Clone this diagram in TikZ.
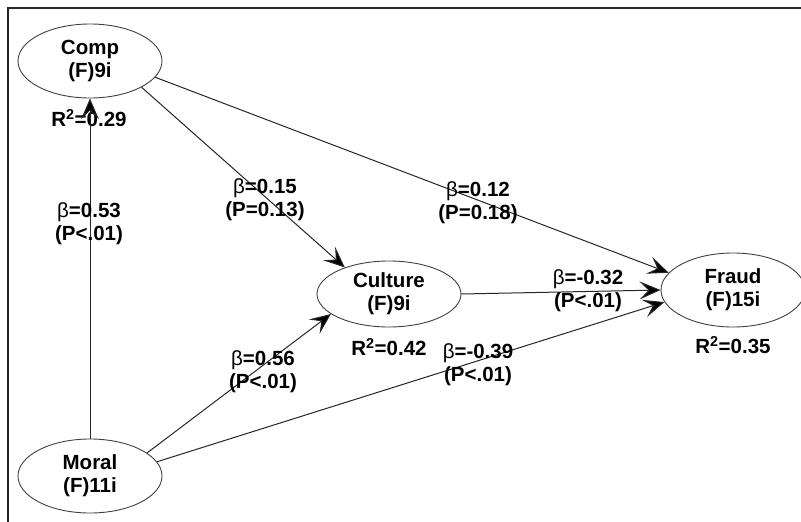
\documentclass[tikz,border=0pt]{standalone}
\usepackage{fontspec}
\setmainfont{Liberation Sans}
\usetikzlibrary{shapes.geometric,arrows.meta,positioning}
\tikzstyle{latent} = [ellipse, draw=black!75, line width=0.9pt, minimum width=144pt, minimum height=74pt, inner sep=0pt, align=center]
\tikzstyle{coef} = [align=center, inner sep=0pt]
\tikzstyle{arrow} = [draw=black!85, line width=1pt, -{Stealth[length=21pt,width=18pt,inset=9pt,fill=black]}]

\begin{document}
\begin{tikzpicture}[
    x=1pt,
    y=-1pt,
    every node/.style={font=\fontsize{20.5}{23}\selectfont\bfseries}
]
    \useasboundingbox (0,0) rectangle (801,522);
    \draw[black!85, line width=2pt] (8,522) -- (8,8) -- (801,8);

    \node[latent] (comp) at (90,61) {Comp\\(F)9i};
    \node[latent] (moral) at (90,476) {Moral\\(F)11i};
    \node[latent, minimum height=66pt] (culture) at (389,294) {Culture\\(F)9i};
    \node[latent] (fraud) at (733,290) {Fraud\\(F)15i};

    \node[coef] (r2comp) at (89,118) {R\textsuperscript{2}=0.29};
    \node[coef] (r2culture) at (389,347) {R\textsuperscript{2}=0.42};
    \node[coef] (r2fraud) at (733,345) {R\textsuperscript{2}=0.35};

    \path[arrow] (moral) -- (comp);
    \path[arrow] (comp.-27) -- (culture.149);
    \path[arrow] (comp.-14) -- (fraud.165);
    \path[arrow] (culture.east) -- (fraud.west);
    \path[arrow] (moral.22) -- (culture.199);
    \path[arrow] (moral.12) -- (fraud.190);

    \node[coef] (bmc) at (89,224) {{\mdseries β}=0.53\\(P<.01)};
    \node[coef] (bccu) at (265,200) {{\mdseries β}=0.15\\(P=0.13)};
    \node[coef] (bcf) at (478,203) {{\mdseries β}=0.12\\(P=0.18)};
    \node[coef] (bcuf) at (588,291) {{\mdseries β}=-0.32\\(P<.01)};
    \node[coef] (bmcu) at (263,372) {{\mdseries β}=0.56\\(P<.01)};
    \node[coef] (bmf) at (478,365) {{\mdseries β}=-0.39\\(P<.01)};
\end{tikzpicture}
\end{document}
